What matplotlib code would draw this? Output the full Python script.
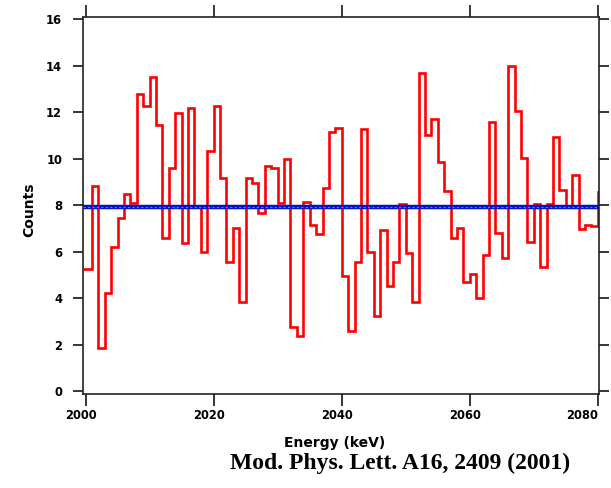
import numpy as np
import matplotlib
matplotlib.use("Agg")
import matplotlib.pyplot as plt
import matplotlib.transforms as mtransforms

# lower edges of the 1 keV bins
energy_lo = np.arange(2000, 2081)
counts = [5.23, 8.82, 1.84, 4.23, 6.21, 7.43, 8.46, 8.10, 12.79, 12.26,
          13.49, 11.44, 6.57, 9.58, 11.97, 6.35, 12.19, 7.95, 5.99, 10.34,
          12.27, 9.17, 5.54, 7.02, 3.82, 9.17, 8.96, 7.64, 9.68, 9.60,
          8.10, 9.98, 2.77, 2.37, 8.12, 7.14, 6.75, 8.74, 11.15, 11.30,
          4.95, 2.59, 5.54, 11.26, 5.99, 3.24, 6.92, 4.52, 5.54, 8.04,
          5.92, 3.82, 13.69, 11.01, 11.70, 9.86, 8.60, 6.59, 7.00, 4.68,
          5.03, 3.99, 5.85, 11.56, 6.78, 5.71, 13.98, 12.04, 10.01, 6.40,
          8.04, 5.32, 8.04, 10.94, 8.65, 7.97, 9.29, 6.97, 7.14, 7.10,
          8.57]
fit_level = 7.93

x_lo, x_hi = 1999.58, 2080.2
edges = np.append(energy_lo, energy_lo[-1] + 1).astype(float)
edges[0] = x_lo

fig = plt.figure(figsize=(6.11, 4.88), dpi=100)
ax = fig.add_axes([0.1358, 0.1926, 0.8446, 0.7726])

ax.stairs(counts, edges, baseline=None, color="#ff0000", linewidth=1.9, zorder=2)
ax.axhline(fit_level, color="#0011cc", linewidth=3.2, zorder=3)
ax.axhline(fit_level, color="#6677ee", linewidth=0.8, dashes=(2, 2), zorder=4)

ax.set_xlim(x_lo, x_hi)
ax.set_ylim(-0.13, 16.09)
ax.set_xticks([2000, 2020, 2040, 2060, 2080])
ax.set_yticks(range(0, 17, 2))

ax.tick_params(axis="x", which="both", direction="out", length=8.5, width=1.1,
               top=True, labeltop=False, pad=2, labelsize=8.3)
ax.tick_params(axis="y", which="both", direction="out", length=7, width=1.1,
               right=True, labelright=False, pad=8, labelsize=8.3)
for lab in ax.get_xticklabels() + ax.get_yticklabels():
    lab.set_fontweight("bold")

# x tick labels sit a little left of their ticks; the last one is pulled inside
shift = mtransforms.ScaledTranslation(-5 / 100, 0, fig.dpi_scale_trans)
xlabels = ax.get_xticklabels()
for lab in xlabels:
    lab.set_transform(lab.get_transform() + shift)
xlabels[-1].set_horizontalalignment("right")
xlabels[-1].set_transform(xlabels[-1].get_transform()
                          + mtransforms.ScaledTranslation(5 / 100, 0, fig.dpi_scale_trans))

for sp in ax.spines.values():
    sp.set_linewidth(1.2)
    sp.set_color("#222222")

ax.set_xlabel("Energy (keV)", fontsize=10, fontweight="bold")
ax.xaxis.set_label_coords(0.488, -0.112)
ax.set_ylabel("Counts", fontsize=10, fontweight="bold")
ax.yaxis.set_label_coords(-0.091, 0.49)

fig.text(0.6555, 0.0395, "Mod. Phys. Lett. A16, 2409 (2001)",
         family="Liberation Serif", fontweight="bold", fontsize=17,
         ha="center", va="baseline")

fig.savefig("out.png", dpi=100)
